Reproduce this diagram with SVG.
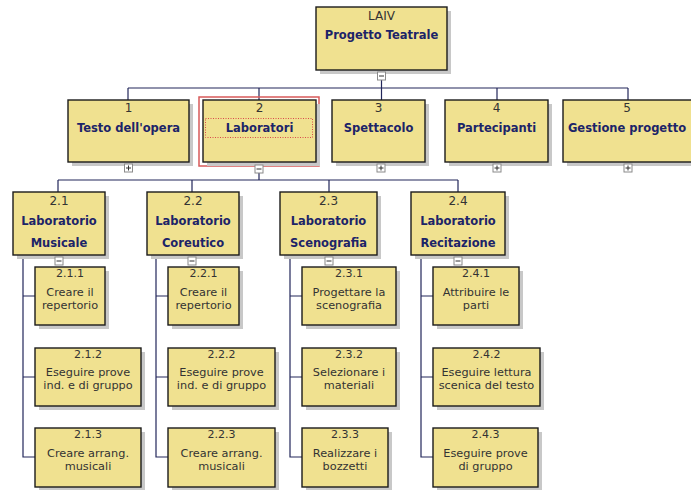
<svg xmlns="http://www.w3.org/2000/svg" xmlns:xlink="http://www.w3.org/1999/xlink" width="691" height="490" viewBox="0 0 691 490">
  <style>
    .bg { fill: #ffffff; }
    .shadow { fill: #c8c8c8; }
    .box { fill: #f0e190; stroke: #1b1b1b; stroke-width: 1.4; }
    .link { fill: none; stroke: #22265a; stroke-width: 1.2; }
    .num { font-family: "DejaVu Sans", Verdana, sans-serif; font-size: 12px; fill: #333333; text-anchor: middle; }
    .title { font-family: "DejaVu Sans", Verdana, sans-serif; font-size: 11.5px; font-weight: bold; fill: #1c2468; text-anchor: middle; }
    .num3 { font-family: "DejaVu Sans", Verdana, sans-serif; font-size: 11px; fill: #333333; text-anchor: middle; }
    .task { font-family: "DejaVu Sans", Verdana, sans-serif; font-size: 11.3px; fill: #333333; text-anchor: middle; }
    .tog { fill: #ffffff; stroke: #8a8a8a; stroke-width: 1; }
    .tog-mark { stroke: #333333; stroke-width: 1; }
    .sel { fill: none; stroke: #d85a5a; stroke-width: 1.5; }
    .focus { fill: none; stroke: #d84a4a; stroke-width: 1; stroke-dasharray: 1 1.5; }
  </style>
  <defs>
    <!-- expand / collapse toggles, origin at their centre -->
    <g id="minus">
      <rect class="tog" x="-4" y="-4" width="8" height="8"/>
      <line class="tog-mark" x1="-2.5" y1="0" x2="2.5" y2="0"/>
    </g>
    <g id="plus">
      <rect class="tog" x="-4" y="-4" width="8" height="8"/>
      <line class="tog-mark" x1="-2.5" y1="0" x2="2.5" y2="0"/>
      <line class="tog-mark" x1="0" y1="-2.5" x2="0" y2="2.5"/>
    </g>
  </defs>

  <rect class="bg" width="691" height="490"/>

  <!-- connectors -->
  <g id="connectors">
    <!-- root to level 1 -->
    <path class="link" d="M381.5 80 V88 M128 88 H628 M128 88 V100 M259 88 V100 M381.5 88 V100 M497 88 V100 M628 88 V100"/>
    <!-- Laboratori to its sub-labs -->
    <path class="link" d="M259 172 V180 M58 180 H458 M58 180 V192 M192 180 V192 M329 180 V192 M458 180 V192"/>
    <!-- 2.1 tasks -->
    <path class="link" d="M23 255 V457 H35 M23 296 H35 M23 377 H35"/>
    <!-- 2.2 tasks -->
    <path class="link" d="M156 255 V457 H168 M156 296 H168 M156 377 H168"/>
    <!-- 2.3 tasks -->
    <path class="link" d="M290 255 V457 H302 M290 296 H302 M290 377 H302"/>
    <!-- 2.4 tasks -->
    <path class="link" d="M421 255 V457 H433 M421 296 H433 M421 377 H433"/>
  </g>

  <!-- root -->
  <g id="node-root">
    <rect class="shadow" x="320" y="11" width="131" height="63"/>
    <rect class="box" x="316" y="7" width="131" height="63"/>
    <text class="num" x="381.5" y="20">LAIV</text>
    <text class="title" x="381.5" y="39">Progetto Teatrale</text>
    <use xlink:href="#minus" x="381.5" y="76"/>
  </g>

  <!-- level 1 -->
  <g id="node-1">
    <rect class="shadow" x="72" y="104" width="121" height="62"/>
    <rect class="box" x="68" y="100" width="121" height="62"/>
    <text class="num" x="128.5" y="112">1</text>
    <text class="title" x="128.5" y="132">Testo dell'opera</text>
    <use xlink:href="#plus" x="128.5" y="168"/>
  </g>
  <g id="node-2">
    <rect class="sel" x="199" y="97" width="120" height="69"/>
    <rect class="shadow" x="207" y="104" width="113" height="62"/>
    <rect class="box" x="203" y="100" width="113" height="62"/>
    <rect class="focus" x="205.5" y="118.5" width="107" height="19"/>
    <text class="num" x="259.5" y="112">2</text>
    <text class="title" x="259.5" y="132">Laboratori</text>
    <use xlink:href="#minus" x="259" y="169"/>
  </g>
  <g id="node-3">
    <rect class="shadow" x="336" y="104" width="93" height="62"/>
    <rect class="box" x="332" y="100" width="93" height="62"/>
    <text class="num" x="378.5" y="112">3</text>
    <text class="title" x="378.5" y="132">Spettacolo</text>
    <use xlink:href="#plus" x="381" y="168"/>
  </g>
  <g id="node-4">
    <rect class="shadow" x="449" y="104" width="103" height="62"/>
    <rect class="box" x="445" y="100" width="103" height="62"/>
    <text class="num" x="496.5" y="112">4</text>
    <text class="title" x="496.5" y="132">Partecipanti</text>
    <use xlink:href="#plus" x="497" y="168"/>
  </g>
  <g id="node-5">
    <rect class="shadow" x="567" y="104" width="135" height="62"/>
    <rect class="box" x="563" y="100" width="135" height="62"/>
    <text class="num" x="627" y="112">5</text>
    <text class="title" x="627" y="132">Gestione progetto</text>
    <use xlink:href="#plus" x="628" y="168"/>
  </g>

  <!-- level 2: laboratories -->
  <g id="node-2-1">
    <rect class="shadow" x="17" y="196" width="92" height="63"/>
    <rect class="box" x="13" y="192" width="92" height="63"/>
    <text class="num" x="59" y="205">2.1</text>
    <text class="title" x="59" y="225">Laboratorio</text>
    <text class="title" x="59" y="247">Musicale</text>
    <use xlink:href="#minus" x="59" y="261"/>
  </g>
  <g id="node-2-2">
    <rect class="shadow" x="151" y="196" width="92" height="63"/>
    <rect class="box" x="147" y="192" width="92" height="63"/>
    <text class="num" x="193" y="205">2.2</text>
    <text class="title" x="193" y="225">Laboratorio</text>
    <text class="title" x="193" y="247">Coreutico</text>
    <use xlink:href="#minus" x="192" y="261"/>
  </g>
  <g id="node-2-3">
    <rect class="shadow" x="284" y="196" width="97" height="63"/>
    <rect class="box" x="280" y="192" width="97" height="63"/>
    <text class="num" x="328.5" y="205">2.3</text>
    <text class="title" x="328.5" y="225">Laboratorio</text>
    <text class="title" x="328.5" y="247">Scenografia</text>
    <use xlink:href="#minus" x="329" y="261"/>
  </g>
  <g id="node-2-4">
    <rect class="shadow" x="415" y="196" width="94" height="63"/>
    <rect class="box" x="411" y="192" width="94" height="63"/>
    <text class="num" x="458" y="205">2.4</text>
    <text class="title" x="458" y="225">Laboratorio</text>
    <text class="title" x="458" y="247">Recitazione</text>
    <use xlink:href="#minus" x="458" y="261"/>
  </g>

  <!-- level 3: tasks of 2.1 -->
  <g id="node-2-1-1">
    <rect class="shadow" x="39" y="271" width="70" height="58"/>
    <rect class="box" x="35" y="267" width="70" height="58"/>
    <text class="num3" x="70" y="277">2.1.1</text>
    <text class="task" x="70" y="296">Creare il</text>
    <text class="task" x="70" y="309">repertorio</text>
  </g>
  <g id="node-2-1-2">
    <rect class="shadow" x="39" y="352" width="106" height="58"/>
    <rect class="box" x="35" y="348" width="106" height="58"/>
    <text class="num3" x="88" y="358">2.1.2</text>
    <text class="task" x="88" y="376">Eseguire prove</text>
    <text class="task" x="88" y="389">ind. e di gruppo</text>
  </g>
  <g id="node-2-1-3">
    <rect class="shadow" x="39" y="432" width="106" height="59"/>
    <rect class="box" x="35" y="428" width="106" height="59"/>
    <text class="num3" x="88" y="438">2.1.3</text>
    <text class="task" x="88" y="457">Creare arrang.</text>
    <text class="task" x="88" y="470">musicali</text>
  </g>

  <!-- level 3: tasks of 2.2 -->
  <g id="node-2-2-1">
    <rect class="shadow" x="172" y="271" width="71" height="58"/>
    <rect class="box" x="168" y="267" width="71" height="58"/>
    <text class="num3" x="203.5" y="277">2.2.1</text>
    <text class="task" x="203.5" y="296">Creare il</text>
    <text class="task" x="203.5" y="309">repertorio</text>
  </g>
  <g id="node-2-2-2">
    <rect class="shadow" x="172" y="352" width="107" height="58"/>
    <rect class="box" x="168" y="348" width="107" height="58"/>
    <text class="num3" x="221.5" y="358">2.2.2</text>
    <text class="task" x="221.5" y="376">Eseguire prove</text>
    <text class="task" x="221.5" y="389">ind. e di gruppo</text>
  </g>
  <g id="node-2-2-3">
    <rect class="shadow" x="172" y="432" width="107" height="59"/>
    <rect class="box" x="168" y="428" width="107" height="59"/>
    <text class="num3" x="221.5" y="438">2.2.3</text>
    <text class="task" x="221.5" y="457">Creare arrang.</text>
    <text class="task" x="221.5" y="470">musicali</text>
  </g>

  <!-- level 3: tasks of 2.3 -->
  <g id="node-2-3-1">
    <rect class="shadow" x="306" y="271" width="94" height="58"/>
    <rect class="box" x="302" y="267" width="94" height="58"/>
    <text class="num3" x="349" y="277">2.3.1</text>
    <text class="task" x="349" y="296">Progettare la</text>
    <text class="task" x="349" y="309">scenografia</text>
  </g>
  <g id="node-2-3-2">
    <rect class="shadow" x="306" y="352" width="94" height="58"/>
    <rect class="box" x="302" y="348" width="94" height="58"/>
    <text class="num3" x="349" y="358">2.3.2</text>
    <text class="task" x="349" y="376">Selezionare i</text>
    <text class="task" x="349" y="389">materiali</text>
  </g>
  <g id="node-2-3-3">
    <rect class="shadow" x="306" y="432" width="86" height="59"/>
    <rect class="box" x="302" y="428" width="86" height="59"/>
    <text class="num3" x="345" y="438">2.3.3</text>
    <text class="task" x="345" y="457">Realizzare i</text>
    <text class="task" x="345" y="470">bozzetti</text>
  </g>

  <!-- level 3: tasks of 2.4 -->
  <g id="node-2-4-1">
    <rect class="shadow" x="437" y="271" width="86" height="58"/>
    <rect class="box" x="433" y="267" width="86" height="58"/>
    <text class="num3" x="476" y="277">2.4.1</text>
    <text class="task" x="476" y="296">Attribuire le</text>
    <text class="task" x="476" y="309">parti</text>
  </g>
  <g id="node-2-4-2">
    <rect class="shadow" x="437" y="352" width="107" height="58"/>
    <rect class="box" x="433" y="348" width="107" height="58"/>
    <text class="num3" x="486.5" y="358">2.4.2</text>
    <text class="task" x="486.5" y="376">Eseguire lettura</text>
    <text class="task" x="486.5" y="389">scenica del testo</text>
  </g>
  <g id="node-2-4-3">
    <rect class="shadow" x="437" y="432" width="105" height="59"/>
    <rect class="box" x="433" y="428" width="105" height="59"/>
    <text class="num3" x="485.5" y="438">2.4.3</text>
    <text class="task" x="485.5" y="457">Eseguire prove</text>
    <text class="task" x="485.5" y="470">di gruppo</text>
  </g>
</svg>
